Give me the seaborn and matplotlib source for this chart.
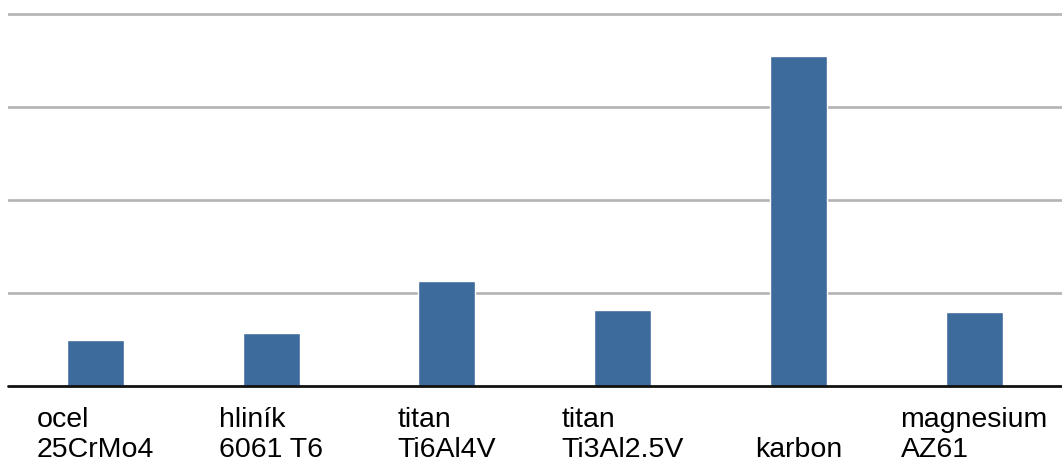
import matplotlib
matplotlib.use("Agg")
import matplotlib.pyplot as plt
import seaborn as sns
import pandas as pd

# Materials and their relative values
categories = ["ocel\n25CrMo4", "hliník\n6061 T6", "titan\nTi6Al4V",
              "titan\nTi3Al2.5V", "\nkarbon", "magnesium\nAZ61"]
values = [0.49, 0.565, 1.12, 0.81, 3.54, 0.79]
grid_levels = [1, 2, 3, 4]

sns.set_theme(style="white")
plt.rcParams["font.family"] = ["Liberation Sans", "DejaVu Sans"]

df = pd.DataFrame({"material": categories, "value": values})

fig = plt.figure(figsize=(10.62, 4.64), dpi=100)
ax = fig.add_axes([7.5 / 1062, 77.5 / 464, 1054.5 / 1062, 4.03 * 93 / 464])

sns.barplot(data=df, x="material", y="value", color="#3d6b9b",
            saturation=1, width=0.324, ax=ax, zorder=3)

ax.set_ylim(0, 4.03)
ax.set_xlim(-0.5, 5.5)
for g in grid_levels:
    ax.axhline(g, color="#b3b3b3", lw=1.9, zorder=1)
ax.axhline(0, color="#111111", lw=2.0, zorder=4, clip_on=False)

for side in ["top", "right", "left", "bottom"]:
    ax.spines[side].set_visible(False)
ax.set_yticks([])
ax.set_xlabel("")
ax.set_ylabel("")
ax.tick_params(axis="x", length=0, pad=15)
for lbl in ax.get_xticklabels():
    lbl.set_fontsize(20.5)
    lbl.set_multialignment("left")
    lbl.set_color("#000000")

fig.savefig("out.png", dpi=100, facecolor="white")
